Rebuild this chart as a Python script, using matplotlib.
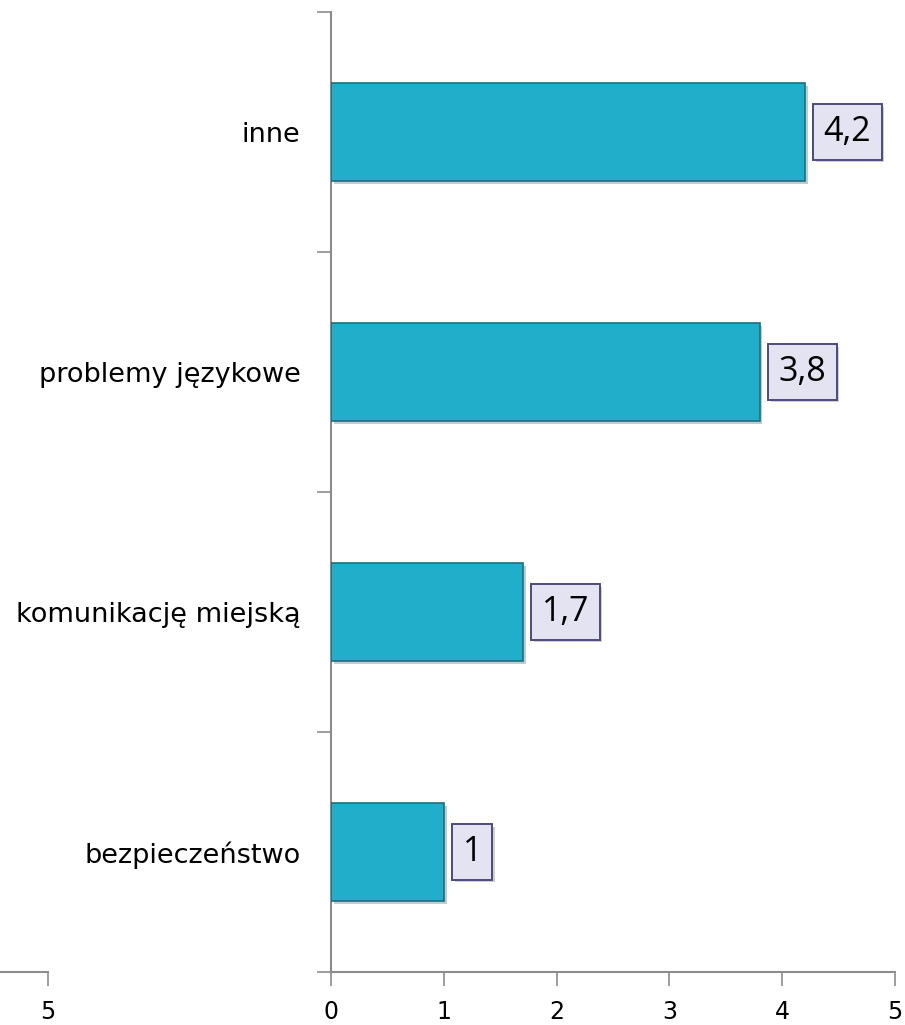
import matplotlib.pyplot as plt
import matplotlib.patheffects as pe

# dane
kategorie = ['bezpieczeństwo', 'komunikację miejską', 'problemy językowe', 'inne']
wartosci = [1, 1.7, 3.8, 4.2]
etykiety = ['1', '1,7', '3,8', '4,2']

plt.rcParams['font.family'] = ['DejaVu Sans']

fig = plt.figure(figsize=(9.05, 10.25), dpi=100)
W, H = 905, 1025

# glowna os
ax = fig.add_axes([331 / W, 1 - 972 / H, (895 - 331) / W, (972 - 12) / H])

pozycje = range(len(kategorie))
bars = ax.barh(pozycje, wartosci, height=0.41, color='#20AECB',
               edgecolor='#1A6F80', linewidth=1.2, zorder=3)
for b in bars:
    b.set_path_effects([pe.SimplePatchShadow(offset=(2, -2), alpha=0.25), pe.Normal()])

ax.set_xlim(0, 5)
ax.set_ylim(-0.5, len(kategorie) - 0.5)
ax.set_xticks([0, 1, 2, 3, 4, 5])
ax.set_xticklabels(['0', '1', '2', '3', '4', '5'], fontsize=17)

# kategorie jako etykiety w srodku pasm, kreski na granicach
ax.set_yticks([p - 0.5 for p in range(len(kategorie) + 1)])
ax.set_yticklabels([])
ax.set_yticks(list(pozycje), minor=True)
ax.set_yticklabels(kategorie, minor=True, fontsize=19.5)
ax.tick_params(axis='y', which='minor', length=0, pad=22)
ax.tick_params(axis='y', which='major', length=10, color='#8C8C8C', width=1.2)
ax.tick_params(axis='x', length=10, color='#8C8C8C', width=1.2, pad=10)

for s in ['top', 'right']:
    ax.spines[s].set_visible(False)
for s in ['left', 'bottom']:
    ax.spines[s].set_color('#8C8C8C')
    ax.spines[s].set_linewidth(1.5)

# etykiety wartosci w ramkach
for p, v, t in zip(pozycje, wartosci, etykiety):
    txt = ax.annotate(t, xy=(v, p), xytext=(13.5, 0), textcoords='offset points',
                      ha='left', va='center', fontsize=24.5, zorder=4,
                      family=['Open Sans', 'DejaVu Sans'],
                      bbox=dict(boxstyle='square,pad=0.31', facecolor='#E3E3F1',
                                edgecolor='#4A4A7E', linewidth=1.4))
    txt.get_bbox_patch().set_path_effects(
        [pe.SimplePatchShadow(offset=(2, -2), alpha=0.25), pe.Normal()])

# fragment osi po lewej stronie z "5"
ax2 = fig.add_axes([0, 1 - 972 / H, 48 / W, 0.001])
ax2.set_xlim(4, 5)
ax2.set_xticks([5])
ax2.set_xticklabels(['5'], fontsize=17)
ax2.set_yticks([])
for s in ['top', 'right', 'left']:
    ax2.spines[s].set_visible(False)
ax2.spines['bottom'].set_color('#8C8C8C')
ax2.spines['bottom'].set_linewidth(1.5)
ax2.tick_params(axis='x', length=10, color='#8C8C8C', width=1.2, pad=10)
ax2.patch.set_visible(False)

fig.savefig('out.png', dpi=100)
